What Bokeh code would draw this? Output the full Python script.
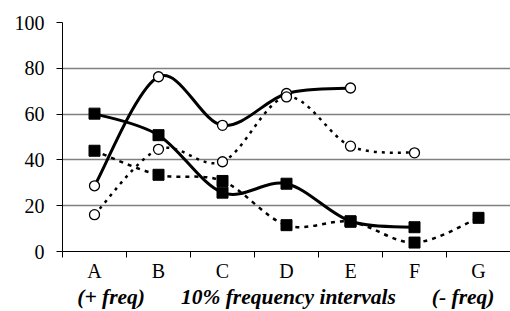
import numpy as np
from bokeh.plotting import figure
from bokeh.models import Range1d, FixedTicker, LinearAxis
from bokeh.embed import file_html
from bokeh.resources import INLINE

categories = ["A", "B", "C", "D", "E", "F", "G"]
solid_circle = [28.7, 76.3, 55.1, 69.0, 71.4]                 # A-E
dotted_circle = [16.1, 44.6, 39.2, 67.5, 46.0, 43.1]          # A-F
solid_square = [60.2, 50.8, 25.7, 29.6, 13.2, 10.6]           # A-F
dotted_square = [44.0, 33.5, 30.8, 11.5, 13.0, 3.9, 14.7]     # A-G
y_ticks = [0, 20, 40, 60, 80, 100]
axis_texts = ["(+ freq)", "10% frequency intervals", "(- freq)"]
axis_text_pos = [0.76, 3.53, 6.26]

FONT = "Liberation Serif"

centers = [i + 0.5 for i in range(len(categories))]

p = figure(width=510, height=311, x_range=Range1d(0, 7), y_range=Range1d(0, 100),
           output_backend="svg", toolbar_location=None,
           min_border_left=62, min_border_right=0, min_border_top=22, min_border_bottom=59)
p.outline_line_color = None
p.xgrid.grid_line_color = None
p.ygrid.grid_line_color = "#808080"
p.ygrid.grid_line_width = 1.3
p.ygrid.ticker = FixedTicker(ticks=y_ticks)

p.yaxis.ticker = FixedTicker(ticks=y_ticks)
p.yaxis.axis_line_color = "black"
p.yaxis.major_tick_out = 6
p.yaxis.major_tick_in = 0
p.yaxis.minor_tick_line_color = None
p.yaxis.major_label_text_font = FONT
p.yaxis.major_label_text_font_size = "20px"
p.yaxis.major_label_text_color = "black"
p.yaxis.major_label_standoff = 12

p.xaxis.ticker = FixedTicker(ticks=centers, minor_ticks=list(range(8)))
p.xaxis.major_label_overrides = {c: lab for c, lab in zip(centers, categories)}
p.xaxis.major_tick_line_color = None
p.xaxis.minor_tick_out = 6
p.xaxis.minor_tick_in = 0
p.xaxis.minor_tick_line_color = "black"
p.xaxis.axis_line_color = "black"
p.xaxis.major_label_text_font = FONT
p.xaxis.major_label_text_font_size = "20px"
p.xaxis.major_label_text_color = "black"
p.xaxis.major_label_standoff = 2

ax2 = LinearAxis(ticker=FixedTicker(ticks=axis_text_pos, minor_ticks=[]),
                 major_label_overrides={x: t for x, t in zip(axis_text_pos, axis_texts)},
                 axis_line_color=None, major_tick_line_color=None, minor_tick_line_color=None,
                 major_tick_out=0, major_tick_in=0,
                 major_label_standoff=0, major_label_text_font=FONT,
                 major_label_text_font_size="21.5px", major_label_text_font_style="bold italic",
                 major_label_text_color="black")
p.add_layout(ax2, "below")


def smooth(vals, **kw):
    xs = np.array(centers[:len(vals)], dtype=float)
    ys = np.array(vals, dtype=float)
    n = len(xs)
    P = np.stack([xs, ys], axis=1)
    x0, y0, x1, y1, cx0, cy0, cx1, cy1 = ([] for _ in range(8))
    for i in range(n - 1):
        pm = P[i - 1] if i > 0 else P[i]
        pp = P[i + 2] if i + 2 < n else P[i + 1]
        c1 = P[i] + (P[i + 1] - pm) / 6.0
        c2 = P[i + 1] - (pp - P[i]) / 6.0
        x0.append(P[i][0]); y0.append(P[i][1])
        x1.append(P[i + 1][0]); y1.append(P[i + 1][1])
        cx0.append(c1[0]); cy0.append(c1[1])
        cx1.append(c2[0]); cy1.append(c2[1])
    p.bezier(x0=x0, y0=y0, x1=x1, y1=y1, cx0=cx0, cy0=cy0, cx1=cx1, cy1=cy1,
             line_color="black", **kw)


smooth(dotted_circle, line_width=2.5, line_dash="3 5")
smooth(dotted_square, line_width=2.5, line_dash="4 5")
smooth(solid_circle, line_width=3)
smooth(solid_square, line_width=3)

p.scatter(centers[:len(solid_square)], solid_square, marker="square", size=11,
          fill_color="black", line_color="black")
p.scatter(centers[:len(dotted_square)], dotted_square, marker="square", size=11,
          fill_color="black", line_color="black")
p.scatter(centers[:len(solid_circle)], solid_circle, marker="circle", size=10,
          fill_color="white", line_color="black", line_width=1.3)
p.scatter(centers[:len(dotted_circle)], dotted_circle, marker="circle", size=10,
          fill_color="white", line_color="black", line_width=1.3)

open("out.html", "w").write(file_html(p, INLINE))
